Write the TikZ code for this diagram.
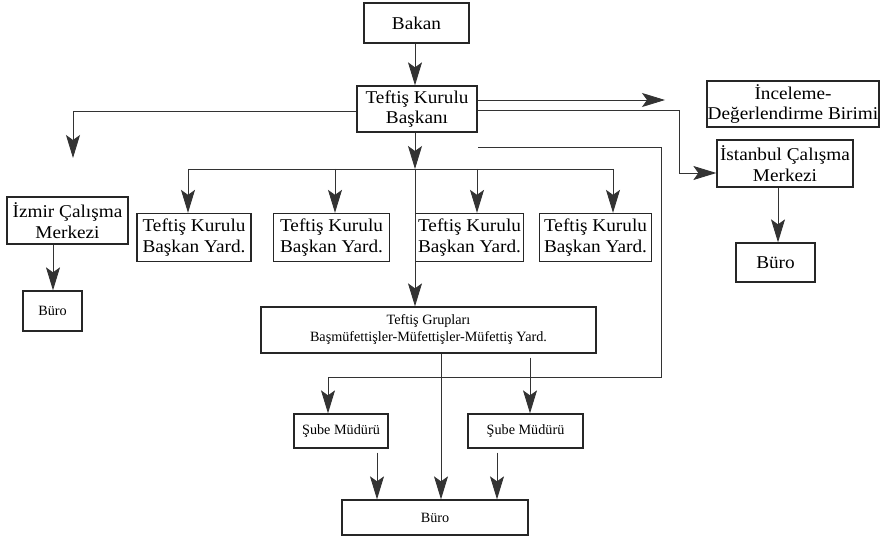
\documentclass[tikz,border=0pt]{standalone}
\usepackage{fontspec}
\setmainfont{Liberation Serif}
\newfontfamily\bigf{Liberation Serif}[FakeStretch=1.07]
\usetikzlibrary{arrows.meta}
\begin{document}
\begin{tikzpicture}[x=1pt,y=-1pt,
  box/.style={draw=black!85, line width=1.3pt, inner sep=0pt, align=center},
  bigtext/.style={font=\bigf\fontsize{18}{20.5}\selectfont},
  smalltext/.style={font=\fontsize{14.2}{17}\selectfont},
  conn/.style={draw=black!80, line width=0.9pt},
  arr/.style={conn, -{Stealth[length=23pt,width=14pt,inset=5pt]}}]
\useasboundingbox (0,0) rectangle (880,540);
\fill[white] (0,0) rectangle (880,540);

% nodes
\node[box,bigtext,minimum width=105pt,minimum height=40pt] (bakan) at (416.5,23) {Bakan};
\node[box,bigtext,minimum width=120pt,minimum height=46pt] (tkb) at (417,109) {Teftiş Kurulu\\Başkanı};
\node[box,bigtext,minimum width=172pt,minimum height=46pt] (incel) at (793,104) {İnceleme-\\Değerlendirme Birimi};
\node[box,bigtext,minimum width=136pt,minimum height=47pt] (ist) at (785,163.5) {İstanbul Çalışma\\Merkezi};
\node[box,bigtext,minimum width=79pt,minimum height=39pt] (istburo) at (775.5,262.5) {Büro};
\node[box,bigtext,minimum width=121pt,minimum height=47pt] (izmir) at (67.5,220.5) {İzmir Çalışma\\Merkezi};
\node[box,smalltext,minimum width=59pt,minimum height=40pt] (izburo) at (52.5,311) {Büro};
\node[box,bigtext,minimum width=114pt,minimum height=48pt] (yard1) at (194,237.5) {Teftiş Kurulu\\Başkan Yard.};
\node[box,bigtext,minimum width=116pt,minimum height=48pt] (yard2) at (331.5,237.5) {Teftiş Kurulu\\Başkan Yard.};
\node[box,bigtext,minimum width=108pt,minimum height=48pt] (yard3) at (469.5,237.5) {Teftiş Kurulu\\Başkan Yard.};
\node[box,bigtext,minimum width=112pt,minimum height=48pt] (yard4) at (595.5,237.5) {Teftiş Kurulu\\Başkan Yard.};
\node[box,smalltext,minimum width=335pt,minimum height=46pt] (tg) at (428.5,330) {Teftiş Grupları\\Başmüfettişler-Müfettişler-Müfettiş Yard.};
\node[box,smalltext,minimum width=94pt,minimum height=34pt] (sube1) at (341,431) {Şube Müdürü};
\node[box,smalltext,minimum width=115pt,minimum height=34pt] (sube2) at (525.5,431) {Şube Müdürü};
\node[box,smalltext,minimum width=186pt,minimum height=35pt] (buro) at (435,517.5) {Büro};

% helper coordinates
\coordinate (xv) at (415,0);
\coordinate (x53) at (53,0);
\coordinate (x778) at (778,0);
\coordinate (x530) at (530,0);
\coordinate (x441) at (441,0);
\coordinate (x377) at (377,0);
\coordinate (x497) at (497,0);
\coordinate (incarr) at (665,100);
\coordinate (ib1) at (679,110);
\coordinate (ib2) at (679,173);
\coordinate (iz1) at (73,111);
\coordinate (iztip) at (73,158);
\coordinate (hub) at (415,169);
\coordinate (h1) at (188,169);
\coordinate (h2) at (335,169);
\coordinate (h3) at (477,169);
\coordinate (h4) at (613,169);
\coordinate (r0) at (478,147);
\coordinate (r1) at (661,147);
\coordinate (r2) at (661,377);
\coordinate (r3) at (328,377);

% connectors
\draw[arr] (bakan.south -| xv) -- (tkb.north -| xv);
\draw[arr] (tkb.east |- incarr) -- (incarr);
\draw[arr] (tkb.east |- ib1) -- (ib1) -- (ib2) -- (ist.west |- ib2);
\draw[arr] (tkb.west |- iz1) -- (iz1) -- (iztip);
\draw[arr] (izmir.south -| x53) -- (izburo.north -| x53);
\draw[arr] (ist.south -| x778) -- (istburo.north -| x778);
\draw[arr] (tkb.south -| xv) -- (hub);
\draw[conn] (h1) -- (h4);
\draw[arr] (hub) -- (tg.north -| xv);
\draw[arr] (h1) -- (h1 |- yard1.north);
\draw[arr] (h2) -- (h2 |- yard2.north);
\draw[arr] (h3) -- (h3 |- yard3.north);
\draw[arr] (h4) -- (h4 |- yard4.north);
\draw[arr] (r0) -- (r1) -- (r2) -- (r3) -- (r3 |- sube1.north);
\draw[arr] ([yshift=-4pt]tg.south -| x530) -- (sube2.north -| x530);
\draw[arr] (tg.south -| x441) -- (buro.north -| x441);
\draw[arr] ([yshift=-4pt]sube1.south -| x377) -- (buro.north -| x377);
\draw[arr] ([yshift=-4pt]sube2.south -| x497) -- (buro.north -| x497);
\end{tikzpicture}
\end{document}
